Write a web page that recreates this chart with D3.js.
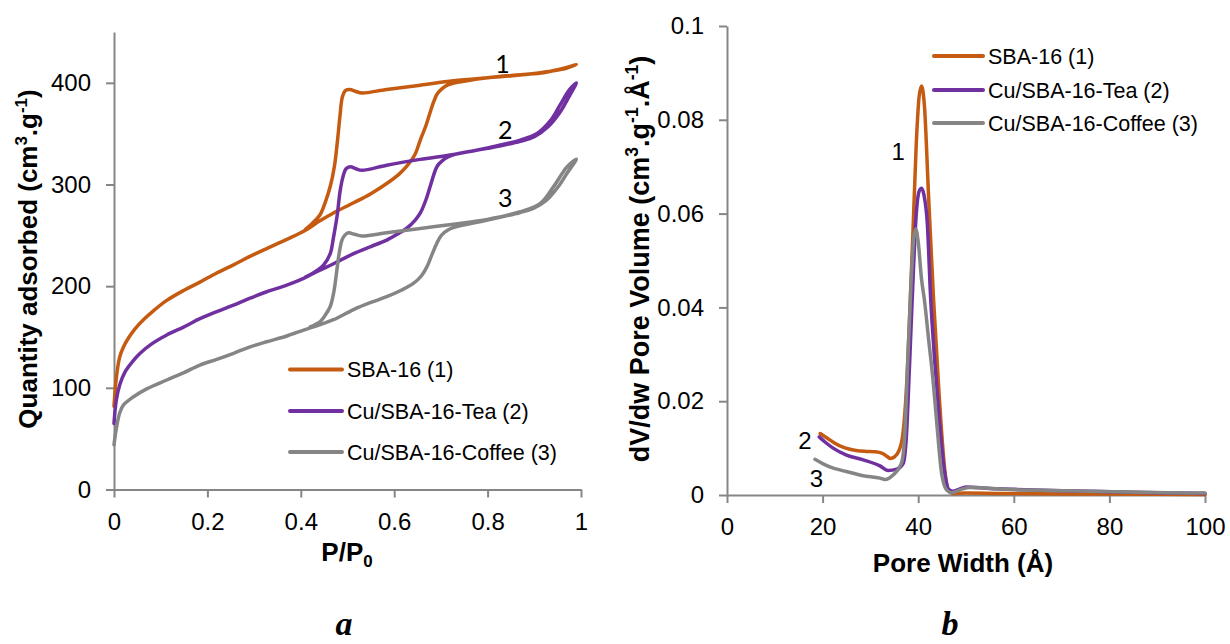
<!DOCTYPE html>
<html><head><meta charset="utf-8">
<script src="https://cdn.jsdelivr.net/npm/d3@7"></script>
<style>
html,body{margin:0;padding:0;background:#fff;}
svg{display:block;}
</style></head><body>
<svg id="chart" width="1230" height="644"></svg>
<script>
// ---------------- DATA ----------------
const seriesNames = ["SBA-16 (1)", "Cu/SBA-16-Tea (2)", "Cu/SBA-16-Coffee (3)"];

// Panel a: N2 isotherms [P/P0, quantity adsorbed]
const sba16Ads = [[0,82],[0.005,110],[0.012,130],[0.02,140],[0.031,149],[0.045,158],[0.063,167],[0.085,176],[0.113,186],[0.15,196],[0.184,204],[0.22,213],[0.256,221],[0.29,229],[0.327,237],[0.37,246],[0.41,255],[0.44,264],[0.47,272],[0.513,282],[0.55,291],[0.584,301],[0.61,310],[0.627,318],[0.645,330],[0.656,344],[0.668,358],[0.677,371],[0.685,382],[0.692,389],[0.702,394],[0.715,398],[0.73,400],[0.8,405],[0.87,408],[0.92,410],[0.95,413],[0.975,416],[0.99,418]];
const sba16Des = [[0.99,418],[0.97,414.5],[0.941,411.8],[0.87,407.6],[0.8,405],[0.727,402],[0.656,397.7],[0.584,393.5],[0.531,390],[0.518,391.5],[0.505,393.5],[0.496,392.5],[0.489,386],[0.484,368],[0.479,345],[0.472,318],[0.463,298],[0.452,282],[0.441,270],[0.425,262],[0.41,256]];
const teaAds = [[0,65],[0.005,88],[0.013,104],[0.024,116],[0.04,126],[0.056,134],[0.08,143],[0.113,152],[0.15,160],[0.184,168],[0.22,175],[0.256,181.4],[0.29,188],[0.327,194.5],[0.37,201],[0.406,207.7],[0.441,215.8],[0.47,222],[0.513,232],[0.55,239],[0.584,245.3],[0.61,252],[0.627,257],[0.645,265],[0.656,272],[0.668,285],[0.677,298],[0.685,310],[0.692,318],[0.702,323],[0.715,327],[0.73,329.6],[0.8,335.5],[0.87,342.5],[0.9,347],[0.93,357],[0.955,371],[0.975,387],[0.99,400]];
const teaDes = [[0.99,402],[0.975,393],[0.955,378],[0.935,363],[0.906,350.2],[0.87,343.7],[0.8,336],[0.727,329.6],[0.656,324.7],[0.584,319],[0.531,314],[0.518,315.5],[0.506,317.4],[0.497,315.5],[0.49,307],[0.484,293],[0.478,270],[0.47,248],[0.463,232],[0.449,221],[0.43,214],[0.41,209]];
const coffeeAds = [[0,44],[0.005,60],[0.012,75],[0.02,83],[0.041,91],[0.07,99],[0.113,107.7],[0.15,115],[0.184,122.4],[0.22,128],[0.256,134],[0.29,140],[0.327,145.3],[0.37,151],[0.406,156.8],[0.44,162],[0.47,167],[0.513,177],[0.55,184],[0.584,189.6],[0.615,196],[0.641,202.7],[0.658,210],[0.67,219],[0.68,230],[0.691,242],[0.701,250],[0.715,255.2],[0.73,258],[0.8,265],[0.87,272.5],[0.9,277],[0.925,284],[0.95,297],[0.97,311],[0.99,325]];
const coffeeDes = [[0.99,327],[0.97,317.4],[0.941,297.7],[0.913,281.4],[0.87,273.2],[0.8,265.7],[0.727,261],[0.656,256.8],[0.584,252.5],[0.531,249.3],[0.515,251],[0.502,252.5],[0.494,250],[0.488,245],[0.482,232],[0.477,215],[0.471,195],[0.463,180],[0.45,170],[0.441,165],[0.42,160]];

// Panel b: pore size distribution [pore width (Å), dV/dw]
const sba16Psd = [[19.5,0.0131],[21,0.0121],[22.5,0.0111],[24,0.0103],[25.5,0.0098],[27,0.0095],[29,0.0093],[31,0.0092],[32.5,0.0089],[33.5,0.0082],[34.2,0.0078],[35,0.0081],[36,0.0095],[36.8,0.013],[37.5,0.022],[38.2,0.038],[38.9,0.056],[39.6,0.075],[40.2,0.085],[40.7,0.0872],[41.3,0.083],[42.2,0.063],[43.2,0.042],[44.4,0.021],[45.6,0.005],[46.4,0.0008],[47.2,0.0003],[50,0.0004],[60,0.0003],[80,0.0002],[100,0.0001]];
const teaPsd = [[19.3,0.0124],[20.5,0.0113],[22.2,0.0100],[25,0.0085],[28.5,0.0075],[32,0.0062],[33.7,0.0052],[35.5,0.0055],[36.9,0.0068],[37.5,0.012],[38.2,0.028],[39,0.048],[39.6,0.06],[40.2,0.0648],[40.7,0.0654],[41.2,0.064],[41.9,0.058],[42.6,0.042],[43.5,0.028],[44.5,0.015],[45.5,0.005],[46.3,0.0013],[47.2,0.0008],[48.5,0.0012],[50,0.0017],[55,0.0014],[60,0.0012],[70,0.0009],[80,0.0007],[90,0.0005],[100,0.0003]];
const coffeePsd = [[18.4,0.0076],[20,0.0067],[21.5,0.006],[25,0.005],[28.5,0.0041],[32,0.0036],[33,0.0033],[34.8,0.0043],[36.5,0.0068],[37.2,0.013],[37.8,0.028],[38.5,0.045],[39.1,0.055],[39.5,0.0567],[40,0.054],[40.7,0.046],[41.3,0.0416],[42.2,0.033],[43.1,0.0245],[44,0.014],[44.9,0.0046],[46,0.001],[47,0.0005],[49,0.0012],[50.8,0.0016],[58.5,0.0012],[72,0.0009],[86,0.0006],[100,0.0004]];

// Axis ticks
const isoYTicks = [0,100,200,300,400];
const isoXTicks = [0,0.2,0.4,0.6,0.8,1];
const isoXTickLabels = ["0","0.2","0.4","0.6","0.8","1"];
const psdYTicks = [0,0.02,0.04,0.06,0.08,0.1];
const psdYTickLabels = ["0","0.02","0.04","0.06","0.08","0.1"];
const psdXTicks = [0,20,40,60,80,100];
const psdXTickLabels = ["0","20","40","60","80","100"];

// Curve number annotations [x, y, text]
const isoNumberLabels = [[0.832,409.5,"1"],[0.838,345,"2"],[0.838,278,"3"]];
const psdNumberLabels = [[35.8,0.0714,"1"],[16.3,0.0099,"2"],[18.7,0.0018,"3"]];

// ---------------- STYLE ----------------
const colors = ["#C55A11","#7030A0","#858585"];
const axisColor = "#868686";
const sans = "'Liberation Sans', Arial, Helvetica, sans-serif";
const lineW = 3.5;
const tickFont = 24;
const titleSize = 26;

const svg = d3.select("#chart");

// Scales
const xL = d3.scaleLinear().domain([0,1]).range([114,581]);
const yL = d3.scaleLinear().domain([0,450]).range([489.5,32]);
const xR = d3.scaleLinear().domain([0,100]).range([727,1205]);
const yR = d3.scaleLinear().domain([0,0.1]).range([495,26]);

function styleAxis(g){
  g.attr("font-family", sans).attr("font-size", tickFont);
  g.select(".domain").attr("stroke", axisColor).attr("stroke-width", 2);
  g.selectAll(".tick line").attr("stroke", axisColor).attr("stroke-width", 2);
  g.selectAll(".tick text").attr("fill", "#000");
}

// ---- Panel a axes
svg.append("g").attr("transform","translate(114,0)")
  .call(d3.axisLeft(yL).tickValues(isoYTicks).tickFormat(d3.format("d")).tickSize(8).tickSizeOuter(0).tickPadding(15))
  .call(styleAxis);
svg.append("g").attr("transform","translate(0,489.5)")
  .call(d3.axisBottom(xL).tickValues(isoXTicks).tickFormat((d,i)=>isoXTickLabels[i]).tickSize(8).tickSizeOuter(0).tickPadding(15))
  .call(styleAxis);

// ---- Panel b axes
svg.append("g").attr("transform","translate(727,0)")
  .call(d3.axisLeft(yR).tickValues(psdYTicks).tickFormat((d,i)=>psdYTickLabels[i]).tickSize(8).tickSizeOuter(0).tickPadding(15))
  .call(styleAxis);
svg.append("g").attr("transform","translate(0,495)")
  .call(d3.axisBottom(xR).tickValues(psdXTicks).tickFormat((d,i)=>psdXTickLabels[i]).tickSize(8).tickSizeOuter(0).tickPadding(15))
  .call(styleAxis);

// ---- Curves panel a (adsorption then desorption as one loop)
const isoLine = d3.line().x(d=>xL(d[0])).y(d=>yL(d[1])).curve(d3.curveCatmullRom.alpha(0.5));
const isoSeries = [sba16Ads.concat(sba16Des.slice(1)), teaAds.concat(teaDes.slice(1)), coffeeAds.concat(coffeeDes.slice(1))];
svg.append("g").selectAll("path").data(isoSeries).join("path")
  .attr("d", isoLine).attr("fill","none")
  .attr("stroke",(d,i)=>colors[i]).attr("stroke-width",lineW)
  .attr("stroke-linejoin","round").attr("stroke-linecap","round");

// ---- Curves panel b
const psdLine = d3.line().x(d=>xR(d[0])).y(d=>yR(d[1])).curve(d3.curveMonotoneX);
svg.append("g").selectAll("path").data([sba16Psd, teaPsd, coffeePsd]).join("path")
  .attr("d", psdLine).attr("fill","none")
  .attr("stroke",(d,i)=>colors[i]).attr("stroke-width",lineW)
  .attr("stroke-linejoin","round").attr("stroke-linecap","round");

// ---- Number annotations
svg.append("g").selectAll("text").data(isoNumberLabels).join("text")
  .attr("x",d=>xL(d[0])).attr("y",d=>yL(d[1]))
  .attr("text-anchor","middle").attr("font-family","Lato, 'Open Sans', sans-serif").attr("font-size",25)
  .text(d=>d[2]);
svg.append("g").selectAll("text").data(psdNumberLabels).join("text")
  .attr("x",d=>xR(d[0])).attr("y",d=>yR(d[1]))
  .attr("text-anchor","middle").attr("font-family",sans).attr("font-size",24)
  .text(d=>d[2]);

// ---- Legends
function legend(x0, x1, ys){
  const g = svg.append("g");
  seriesNames.forEach((name,i)=>{
    g.append("line").attr("x1",x0).attr("x2",x1).attr("y1",ys[i]).attr("y2",ys[i])
      .attr("stroke",colors[i]).attr("stroke-width",lineW+0.5).attr("stroke-linecap","round");
    g.append("text").attr("x",x1+5).attr("y",ys[i]).attr("dy","0.36em")
      .attr("font-family",sans).attr("font-size",21.5).text(name);
  });
}
legend(290, 342, [369.5, 411, 452]);
legend(934, 983, [56, 90, 123]);

// ---- Axis titles with super/subscripts (shift carried to next tspan)
function richText(t, parts, size){
  let carry = 0;
  parts.forEach(p=>{
    const sp = t.append("tspan").text(p.s);
    let shift = 0;
    if (p.sup) { shift = -size*0.4; sp.attr("font-size", size*0.65); }
    if (p.sub) { shift = size*0.22; sp.attr("font-size", size*0.65); }
    const dy = carry + shift;
    if (dy !== 0) sp.attr("dy", dy);
    carry = -shift;
  });
}
let t;
t = svg.append("text").attr("transform","translate(37,259) rotate(-90)")
  .attr("text-anchor","middle").attr("font-family",sans).attr("font-weight","bold").attr("font-size",titleSize);
richText(t,[{s:"Quantity adsorbed (cm"},{s:"3",sup:1},{s:".g"},{s:"-1",sup:1},{s:")"}],titleSize);

t = svg.append("text").attr("x",347).attr("y",561)
  .attr("text-anchor","middle").attr("font-family",sans).attr("font-weight","bold").attr("font-size",titleSize);
richText(t,[{s:"P/P"},{s:"0",sub:1}],titleSize);

t = svg.append("text").attr("transform","translate(649,259) rotate(-90)")
  .attr("text-anchor","middle").attr("font-family",sans).attr("font-weight","bold").attr("font-size",27);
richText(t,[{s:"dV/dw Pore Volume (cm"},{s:"3",sup:1},{s:".g"},{s:"-1",sup:1},{s:".Å"},{s:"-1",sup:1},{s:")"}],27);

svg.append("text").attr("x",963).attr("y",572)
  .attr("text-anchor","middle").attr("font-family",sans).attr("font-weight","bold").attr("font-size",titleSize)
  .text("Pore Width (Å)");

// ---- Panel letters
svg.append("text").attr("x",344).attr("y",635).attr("text-anchor","middle")
  .attr("font-family","'Liberation Serif', 'Times New Roman', serif").attr("font-style","italic").attr("font-weight","bold").attr("font-size",34).text("a");
svg.append("text").attr("x",950).attr("y",635).attr("text-anchor","middle")
  .attr("font-family","'Liberation Serif', 'Times New Roman', serif").attr("font-style","italic").attr("font-weight","bold").attr("font-size",34).text("b");
</script>
</body></html>
